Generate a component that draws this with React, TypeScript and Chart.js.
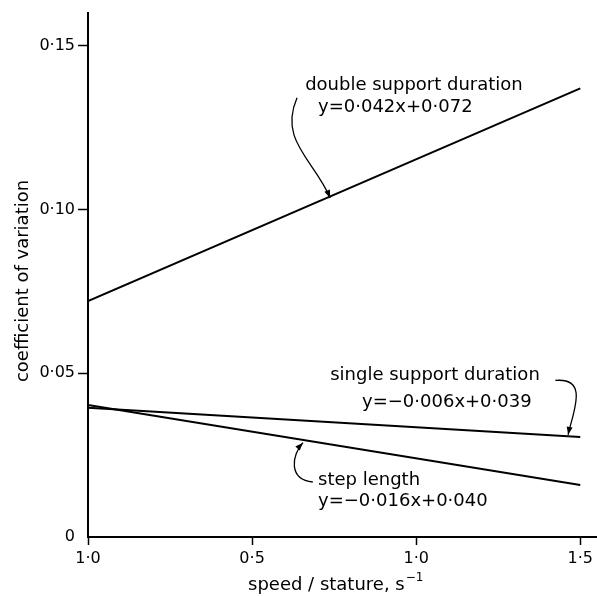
import React, { useEffect, useRef } from "react";
import { Chart, registerables } from "chart.js";

Chart.register(...registerables);

// ---- data ----
const speedPoints = [0, 1.5];
const doubleSupport = [0.072, 0.137];
const singleSupport = [0.0395, 0.0305];
const stepLength = [0.0403, 0.0159];

const xTickValues = [0, 0.5, 1.0, 1.5];
const xTickLabels = ["1·0", "0·5", "1·0", "1·5"];
const yTickValues = [0, 0.05, 0.1, 0.15];
const yTickLabels = ["0", "0·05", "0·10", "0·15"];

const doubleText = ["double support duration", "y=0·042x+0·072"];
const singleText = ["single support duration", "y=−0·006x+0·039"];
const stepText = ["step length", "y=−0·016x+0·040"];

const xTitle = "speed / stature, s";
const xTitleSup = "−1";
const yTitle = "coefficient of variation";

const FONT = "'DejaVu Sans', sans-serif";

type P = [number, number];
const annotations: { lines: string[]; pos: P[]; arrow: P[] }[] = [
  {
    lines: doubleText,
    pos: [
      [0.6616, 0.1365],
      [0.701, 0.1298],
    ],
    arrow: [
      [0.637, 0.1341],
      [0.58, 0.121],
      [0.69, 0.1151],
      [0.738, 0.1035],
    ],
  },
  {
    lines: singleText,
    pos: [
      [0.738, 0.048],
      [0.835, 0.0397],
    ],
    arrow: [
      [1.424, 0.0478],
      [1.53, 0.0488],
      [1.475, 0.0375],
      [1.463, 0.0312],
    ],
  },
  {
    lines: stepText,
    pos: [
      [0.701, 0.0159],
      [0.701, 0.0095],
    ],
    arrow: [
      [0.685, 0.0168],
      [0.61, 0.0175],
      [0.62, 0.025],
      [0.655, 0.0288],
    ],
  },
];

const annotationPlugin = {
  id: "annots",
  afterDatasetsDraw(chart: any) {
    const ctx = chart.ctx;
    const xs = chart.scales.x;
    const ys = chart.scales.y;
    const px = (p: P) => [xs.getPixelForValue(p[0]), ys.getPixelForValue(p[1])];
    ctx.save();
    ctx.fillStyle = "#000";
    ctx.strokeStyle = "#000";
    ctx.font = `18px ${FONT}`;
    ctx.textBaseline = "alphabetic";
    ctx.textAlign = "left";
    for (const a of annotations) {
      a.lines.forEach((t, i) => {
        const [x, y] = px(a.pos[i]);
        ctx.fillText(t, x, y);
      });
      const [s, c1, c2, e] = a.arrow.map(px);
      ctx.lineWidth = 1.3;
      ctx.beginPath();
      ctx.moveTo(s[0], s[1]);
      ctx.bezierCurveTo(c1[0], c1[1], c2[0], c2[1], e[0], e[1]);
      ctx.stroke();
      // arrow head
      const ang = Math.atan2(e[1] - c2[1], e[0] - c2[0]);
      const L = 8,
        W = 3;
      ctx.beginPath();
      ctx.moveTo(e[0], e[1]);
      ctx.lineTo(
        e[0] - L * Math.cos(ang) + W * Math.sin(ang),
        e[1] - L * Math.sin(ang) - W * Math.cos(ang)
      );
      ctx.lineTo(
        e[0] - L * Math.cos(ang) - W * Math.sin(ang),
        e[1] - L * Math.sin(ang) + W * Math.cos(ang)
      );
      ctx.closePath();
      ctx.fill();
    }
    // axis titles
    ctx.font = `18px ${FONT}`;
    ctx.textAlign = "left";
    const tx = 248;
    const ty = 590;
    ctx.fillText(xTitle, tx, ty);
    const w = ctx.measureText(xTitle).width;
    ctx.font = `12px ${FONT}`;
    ctx.fillText(xTitleSup, tx + w + 1, ty - 9);
    ctx.font = `18px ${FONT}`;
    ctx.translate(28, 281);
    ctx.rotate(-Math.PI / 2);
    ctx.textAlign = "center";
    ctx.fillText(yTitle, 0, 0);
    ctx.restore();
  },
};

export default function App() {
  const ref = useRef<HTMLCanvasElement | null>(null);
  useEffect(() => {
    if (!ref.current) return;
    const mk = (vals: number[]) => speedPoints.map((x, i) => ({ x, y: vals[i] }));
    const lineStyle = {
      borderColor: "#000",
      borderWidth: 2,
      pointRadius: 0,
      fill: false,
      tension: 0,
    };
    const chart = new Chart(ref.current, {
      type: "line",
      data: {
        datasets: [
          { label: "double support duration", data: mk(doubleSupport), ...lineStyle },
          { label: "single support duration", data: mk(singleSupport), ...lineStyle },
          { label: "step length", data: mk(stepLength), ...lineStyle },
        ],
      },
      options: {
        animation: false,
        responsive: false,
        maintainAspectRatio: false,
        layout: { padding: { top: 13, right: 0, bottom: 0, left: 0 } },
        plugins: { legend: { display: false }, tooltip: { enabled: false } },
        scales: {
          x: {
            type: "linear",
            min: 0,
            max: 1.55,
            afterBuildTicks: (s: any) => {
              s.ticks = xTickValues.map((v) => ({ value: v }));
            },
            afterFit: (s: any) => {
              s.height = 59;
            },
            ticks: {
              color: "#000",
              font: { family: FONT, size: 16 },
              padding: 4,
              maxRotation: 0,
              autoSkip: false,
              callback: (_v: any, i: number) => xTickLabels[i],
            },
            grid: {
              drawOnChartArea: false,
              drawTicks: true,
              tickLength: 8,
              tickColor: "#000",
              tickWidth: 1.5,
            },
            border: { display: true, color: "#000", width: 2 },
          },
          y: {
            type: "linear",
            min: 0,
            max: 0.16,
            afterBuildTicks: (s: any) => {
              s.ticks = yTickValues.map((v) => ({ value: v }));
            },
            afterFit: (s: any) => {
              s.width = 88;
            },
            ticks: {
              color: "#000",
              font: { family: FONT, size: 16 },
              padding: 3,
              autoSkip: false,
              callback: (_v: any, i: number) => yTickLabels[i],
            },
            grid: {
              drawOnChartArea: false,
              drawTicks: true,
              tickLength: 10,
              tickColor: (c: any) => (c.tick && c.tick.value === 0 ? "rgba(0,0,0,0)" : "#000"),
              tickWidth: 1.5,
            },
            border: { display: true, color: "#000", width: 2 },
          },
        },
      },
      plugins: [annotationPlugin],
    } as any);
    return () => chart.destroy();
  }, []);
  return (
    <div style={{ position: "fixed", left: 0, top: 0, width: 597, height: 596, background: "#fff" }}>
      <canvas ref={ref} width={597} height={596} style={{ width: 597, height: 596 }} />
    </div>
  );
}
